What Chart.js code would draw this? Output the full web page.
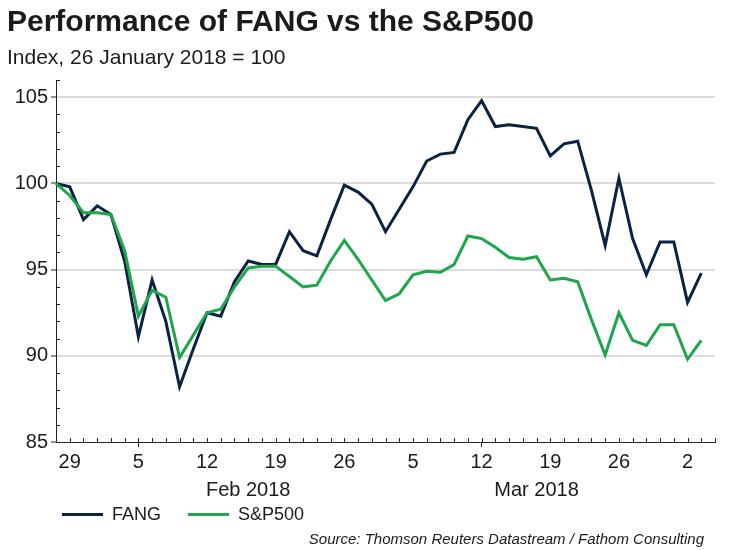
<!DOCTYPE html>
<html><head><meta charset="utf-8">
<script src="https://cdn.jsdelivr.net/npm/chart.js@4.4.1/dist/chart.umd.min.js"></script>
<style>
html,body{margin:0;padding:0;background:#fff;}
#wrap{position:relative;width:745px;height:550px;overflow:hidden;font-family:"Liberation Sans",Arial,sans-serif;color:#1b1b1f;}
canvas{position:absolute;left:0;top:0;}
.t{position:absolute;white-space:nowrap;line-height:1;}
#title{left:7px;top:6px;font-size:30px;font-weight:bold;}
#sub{left:7px;top:46px;font-size:21px;}
.leg{position:absolute;top:504px;height:20px;display:flex;align-items:center;font-size:18px;white-space:nowrap;}
.sw{display:inline-block;width:41px;height:3px;margin-right:9px;}
#src{right:41px;top:531px;font-size:15px;font-style:italic;}
</style></head><body>
<div id="wrap">
<canvas id="c" width="745" height="550"></canvas>
<div class="t" id="title">Performance of FANG vs the S&amp;P500</div>
<div class="t" id="sub">Index, 26 January 2018 = 100</div>
<div class="leg" style="left:62px"><span class="sw" style="background:#0b2240"></span>FANG</div>
<div class="leg" style="left:188px"><span class="sw" style="background:#1ea64c"></span>S&amp;P500</div>
<div class="t" id="src">Source: Thomson Reuters Datastream / Fathom Consulting</div>
</div>
<script>
const dates = [
 '2018-01-26',
 '2018-01-29','2018-01-30','2018-01-31','2018-02-01','2018-02-02',
 '2018-02-05','2018-02-06','2018-02-07','2018-02-08','2018-02-09',
 '2018-02-12','2018-02-13','2018-02-14','2018-02-15','2018-02-16',
 '2018-02-19','2018-02-20','2018-02-21','2018-02-22','2018-02-23',
 '2018-02-26','2018-02-27','2018-02-28','2018-03-01','2018-03-02',
 '2018-03-05','2018-03-06','2018-03-07','2018-03-08','2018-03-09',
 '2018-03-12','2018-03-13','2018-03-14','2018-03-15','2018-03-16',
 '2018-03-19','2018-03-20','2018-03-21','2018-03-22','2018-03-23',
 '2018-03-26','2018-03-27','2018-03-28','2018-03-29','2018-03-30',
 '2018-04-02','2018-04-03','2018-04-04'
];
const fang = [
 100.0,
 99.8, 97.9, 98.7, 98.2, 95.5,
 91.1, 94.4, 92.0, 88.2, 90.4,
 92.5, 92.3, 94.3, 95.5, 95.3,
 95.3, 97.2, 96.1, 95.8, 97.9,
 99.9, 99.5, 98.8, 97.2, 98.5,
 99.8, 101.3, 101.7, 101.8, 103.7,
 104.8, 103.3, 103.4, 103.3, 103.2,
 101.6, 102.3, 102.45, 99.6, 96.4,
 100.3, 96.8, 94.7, 96.6, 96.6,
 93.1, 94.8
];
const sp500 = [
 100.0,
 99.3, 98.3, 98.3, 98.2, 96.1,
 92.3, 93.8, 93.4, 89.9, 91.2,
 92.5, 92.7, 94.0, 95.1, 95.2,
 95.2, 94.6, 94.0, 94.1, 95.5,
 96.7, 95.6, 94.4, 93.2, 93.6,
 94.7, 94.9, 94.85, 95.3, 96.95,
 96.8, 96.3, 95.7, 95.6, 95.75,
 94.4, 94.5, 94.3, 92.1, 90.05,
 92.5, 90.9, 90.6, 91.8, 91.8,
 89.8, 90.9
];
const yTicks = [85, 90, 95, 100, 105];
const monthLabels = {1: 'Feb 2018', 2: 'Mar 2018'};

const FONT = '"Liberation Sans", Arial, sans-serif';
const TXT = '#1b1b1f';
const AX = '#222';
const isMonday = i => i >= 0 && i < dates.length && new Date(dates[i] + 'T00:00:00Z').getUTCDay() === 1;

const extras = {
  id: 'extras',
  afterDraw(chart) {
    const {ctx, scales: {x, y}, chartArea: a} = chart;
    ctx.save();
    ctx.strokeStyle = AX; ctx.lineWidth = 1;
    ctx.beginPath();
    for (let i = 0; i < dates.length; i++) {
      const px = Math.round(x.getPixelForValue(i)) + 0.5;
      ctx.moveTo(px, a.bottom); ctx.lineTo(px, a.bottom - 4);
    }
    for (let v = y.min; v <= y.max; v++) {
      if (yTicks.includes(v)) continue;
      const py = Math.round(y.getPixelForValue(v)) + 0.5;
      ctx.moveTo(a.left, py); ctx.lineTo(a.left + 4, py);
    }
    ctx.stroke();
    ctx.fillStyle = TXT;
    ctx.font = '20px ' + FONT;
    ctx.textAlign = 'center'; ctx.textBaseline = 'middle';
    Object.keys(monthLabels).forEach(m => {
      const idx = [];
      dates.forEach((d, i) => { if (new Date(d + 'T00:00:00Z').getUTCMonth() === +m) idx.push(i); });
      if (!idx.length) return;
      const first = idx[0], last = idx[idx.length - 1];
      const cx = (x.getPixelForValue(first) + x.getPixelForValue(last + 1)) / 2;
      ctx.fillText(monthLabels[m], cx, a.bottom + 48);
    });
    ctx.restore();
  }
};

Chart.defaults.font.family = FONT;
new Chart(document.getElementById('c'), {
  type: 'line',
  data: {
    labels: dates,
    datasets: [
      {label: 'FANG', data: fang, borderColor: '#0b2240', borderWidth: 3, pointRadius: 0, tension: 0, fill: false, order: 1},
      {label: 'S&P500', data: sp500, borderColor: '#1ea64c', borderWidth: 3, pointRadius: 0, tension: 0, fill: false, order: 0}
    ]
  },
  options: {
    responsive: false,
    animation: false,
    devicePixelRatio: 1,
    layout: {padding: {left: 6, right: 30, top: 80, bottom: 76}},
    plugins: {legend: {display: false}, tooltip: {enabled: false}},
    scales: {
      x: {
        type: 'category',
        offset: false,
        grid: {display: true, drawOnChartArea: false, drawTicks: true, tickLength: 5, tickWidth: 1,
               tickColor: c => isMonday(c.index) ? AX : 'rgba(0,0,0,0)'},
        border: {display: true, color: AX, width: 1},
        ticks: {autoSkip: false, maxRotation: 0, minRotation: 0, padding: 3, color: TXT, font: {size: 20},
                callback: (v, i) => isMonday(i) ? String(new Date(dates[i] + 'T00:00:00Z').getUTCDate()) : null},
        afterFit(s) { s.height = 32; }
      },
      y: {
        min: 85, max: 106,
        grid: {color: c => (yTicks.includes(c.tick.value) && c.tick.value > 85) ? '#dcdcdc' : 'rgba(0,0,0,0)',
               lineWidth: 2, drawTicks: true, tickLength: 5, tickWidth: 1,
               tickColor: c => yTicks.includes(c.tick.value) ? AX : 'rgba(0,0,0,0)'},
        border: {display: true, color: AX, width: 1},
        ticks: {stepSize: 1, autoSkip: false, padding: 3, color: TXT, font: {size: 20},
                callback: v => yTicks.includes(v) ? String(v) : null},
        afterFit(s) { s.width = 50; }
      }
    }
  },
  plugins: [extras]
});
</script>
</body></html>
